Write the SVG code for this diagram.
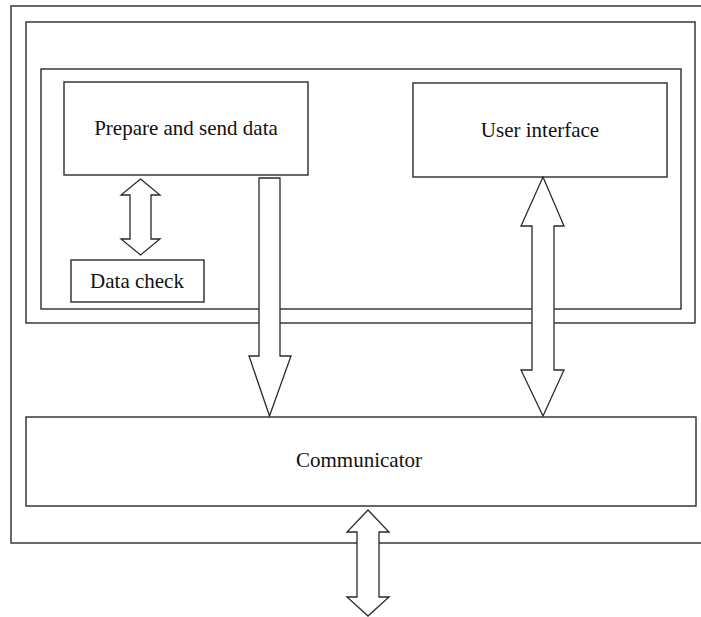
<svg xmlns="http://www.w3.org/2000/svg" width="701" height="617" viewBox="0 0 701 617">
<style>
.box{fill:#fff;stroke:#2a2a2a;stroke-width:1.4}
.frame{fill:none;stroke:#2a2a2a;stroke-width:1.4}
.arrow{fill:#fff;stroke:#2a2a2a;stroke-width:1.3;stroke-linejoin:miter}
.lbl{font-family:"Liberation Serif","Times New Roman",serif;font-size:21px;fill:#111;text-anchor:middle}
</style>
<rect x="0" y="0" width="701" height="617" fill="#fff"/>
<g id="frame-outer"><rect class="frame" x="11" y="6" width="720" height="537"/></g>
<g id="frame-middle"><rect class="frame" x="26" y="22" width="669" height="301"/></g>
<g id="frame-inner"><rect class="frame" x="41" y="69" width="640" height="240"/></g>
<g id="prepare">
<rect class="box" x="64" y="82" width="244" height="93"/>
<text class="lbl" x="186" y="135">Prepare and send data</text>
</g>
<g id="user-interface">
<rect class="box" x="413" y="83" width="254" height="94"/>
<text class="lbl" x="540" y="137">User interface</text>
</g>
<g id="data-check">
<rect class="box" x="71" y="260" width="133" height="42"/>
<text class="lbl" x="137" y="288">Data check</text>
</g>
<g id="communicator">
<rect class="box" x="26" y="417" width="670" height="89"/>
<text class="lbl" x="359" y="467">Communicator</text>
</g>
<g id="connectors">
<polygon class="arrow" points="140.5,179 160,195 151,195 151,239 160,239 140.5,255 121,239 130,239 130,195 121,195"/>
<polygon class="arrow" points="259,178 280,178 280,356 291,356 269.5,416 249,356 259,356"/>
<polygon class="arrow" points="543,177 564,226 554,226 554,370 564,370 543,416 521,370 532,370 532,226 521,226"/>
<polygon class="arrow" points="368,510 389,532 379,532 379,597 389,597 368,616 347,597 357,597 357,532 347,532"/>
</g>
</svg>
